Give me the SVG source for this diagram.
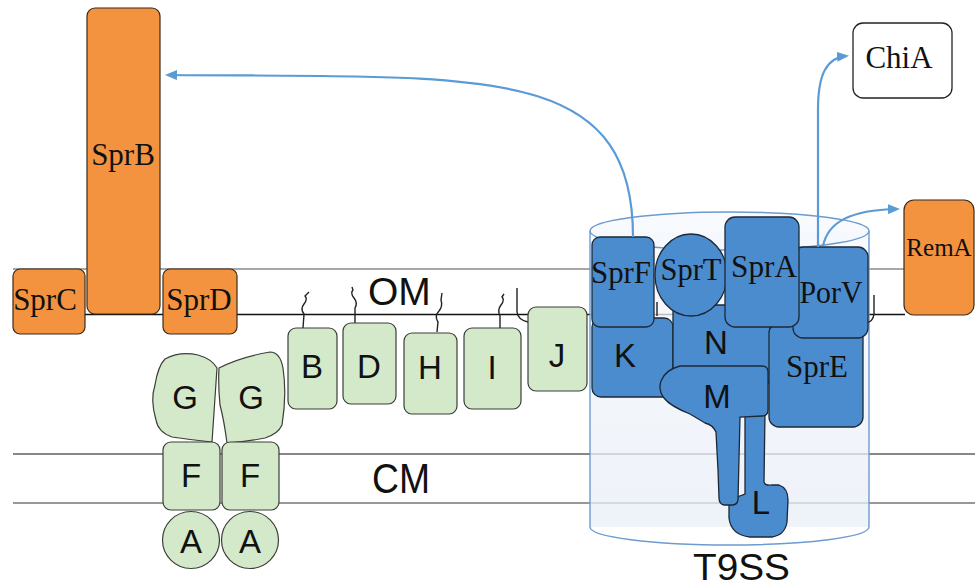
<svg xmlns="http://www.w3.org/2000/svg" width="975" height="588" viewBox="0 0 975 588">
<defs>
<style>
.or{fill:#F4933F;stroke:#3a2a1a;stroke-width:1.2}
.bl{fill:#4B8CCF;stroke:#1c2836;stroke-width:1.3}
.gr{fill:#D4E9CA;stroke:#3a3f38;stroke-width:1.2}
.wh{fill:#ffffff;stroke:#222;stroke-width:1.3}
.ser{font-family:"Liberation Serif","Times New Roman",serif;fill:#111;font-size:31px}
.san{font-family:"Liberation Sans",Arial,sans-serif;fill:#111;font-size:33px;text-anchor:middle}
.mid{text-anchor:middle}
.arr{fill:none;stroke:#5B9BD5;stroke-width:2.2}
.sq{fill:none;stroke:#222;stroke-width:1.4}
</style>
<marker id="ah" viewBox="0 0 12 10" refX="9" refY="5" markerWidth="12" markerHeight="10" markerUnits="userSpaceOnUse" orient="auto">
<path d="M0,0 L12,5 L0,10 Z" fill="#5B9BD5"/>
</marker>
<linearGradient id="cyl" x1="0" y1="0" x2="0" y2="1">
<stop offset="0" stop-color="#f6f8fc"/>
<stop offset="1" stop-color="#e8eef7"/>
</linearGradient>
</defs>
<g id="membranes">
<line x1="13" y1="269" x2="905" y2="269" stroke="#8a8a8a" stroke-width="1.4"/>
<line x1="13" y1="314.5" x2="905" y2="314.5" stroke="#111" stroke-width="1.6"/>
<line x1="13" y1="454" x2="975" y2="454" stroke="#111" stroke-width="1.2"/>
<line x1="13" y1="503" x2="975" y2="503" stroke="#333" stroke-width="1.2"/>
<text x="368" y="305" font-family="Liberation Sans, Arial, sans-serif" font-size="39" fill="#111">OM</text>
<text x="372" y="493" font-family="Liberation Sans, Arial, sans-serif" font-size="43" fill="#111" textLength="58" lengthAdjust="spacingAndGlyphs">CM</text>
</g>
<g id="T9SS">
<rect x="590" y="231" width="279" height="296" fill="url(#cyl)" fill-opacity="0.75" stroke="none"/>
<path d="M590,231 L590,527 A139.5,18 0 0 0 869,527 L869,231" fill="none" stroke="#6d9bd0" stroke-width="1.4"/>
<ellipse cx="729.5" cy="231" rx="139.5" ry="19" fill="#f3f6fb" fill-opacity="0.6" stroke="#6d9bd0" stroke-width="1.4"/>
<text x="693" y="580" font-family="Liberation Sans, Arial, sans-serif" font-size="36" fill="#111" textLength="97" lengthAdjust="spacingAndGlyphs">T9SS</text>
</g>
<g id="lipids">
<path class="sq" d="M303,328 L304,314 Q300,309 304,304 Q308,299 305,296 L309,292"/>
<path class="sq" d="M355,323 L355,308 Q358,303 354,298 Q350,293 353,290 L352,287"/>
<path class="sq" d="M437,332 L438,322 Q434,316 439,311 Q443,306 441,300 L442,293"/>
<path class="sq" d="M500,328 L500,316 Q497,310 501,305 Q505,300 502,297 L504,294"/>
<path class="sq" d="M517,288 L517,312 Q518,320 528,322"/>
<path class="sq" d="M657,302 L657,316"/>
<path class="sq" d="M874,295 L874,314 Q873,322 866,323"/>
</g>
<g id="SprC"><rect class="or" x="13" y="269" width="72" height="65" rx="7"/><text class="ser mid" x="45" y="310">SprC</text></g>
<g id="SprB"><rect class="or" x="87" y="8" width="73" height="306" rx="8"/><text class="ser mid" x="123" y="165">SprB</text></g>
<g id="SprD"><rect class="or" x="163" y="269" width="74" height="65" rx="7"/><text class="ser mid" x="199" y="310">SprD</text></g>
<g id="RemA"><rect class="or" x="904" y="200" width="70" height="115" rx="10"/><text class="ser mid" x="939" y="256" style="font-size:25px">RemA</text></g>
<g id="ChiA"><rect class="wh" x="853" y="23" width="99" height="75" rx="10"/><text class="ser mid" x="899" y="68">ChiA</text></g>
<g id="GldG1"><path class="gr" d="M165,359 Q180,351 198,355 Q212,359 217,368 Q215,400 212,442 Q192,440 172,437 Q158,432 156,420 Q150,400 155,385 Q158,366 165,359 Z"/><text class="san" x="185" y="409">G</text></g>
<g id="GldG2"><path class="gr" d="M219,368 Q240,357 270,352 Q280,352 283,368 Q287,395 282,425 Q278,434 265,438 Q245,442 227,443 Q224,420 220,405 Q218,385 219,368 Z"/><text class="san" x="251" y="409">G</text></g>
<g id="GldF1"><rect class="gr" x="163" y="442" width="57" height="68" rx="8"/><text class="san" x="191" y="487">F</text></g>
<g id="GldF2"><rect class="gr" x="222" y="442" width="57" height="68" rx="8"/><text class="san" x="250" y="487">F</text></g>
<g id="GldA1"><circle class="gr" cx="191" cy="540" r="28.5"/><text class="san" x="191" y="553">A</text></g>
<g id="GldA2"><circle class="gr" cx="250" cy="540" r="28.5"/><text class="san" x="250" y="553">A</text></g>
<g id="GldB"><rect class="gr" x="288" y="328" width="49" height="81" rx="8"/><text class="san" x="312" y="378">B</text></g>
<g id="GldD"><rect class="gr" x="343" y="323" width="53" height="81" rx="8"/><text class="san" x="369" y="378">D</text></g>
<g id="GldH"><rect class="gr" x="404" y="333" width="53" height="81" rx="8"/><text class="san" x="430" y="379">H</text></g>
<g id="GldI"><rect class="gr" x="464" y="328" width="57" height="81" rx="8"/><text class="san" x="492" y="379">I</text></g>
<g id="GldJ"><rect class="gr" x="528" y="307" width="59" height="84" rx="8"/><text class="san" x="557" y="367">J</text></g>
<g id="GldK"><rect class="bl" x="592" y="318" width="81" height="79" rx="9"/><text class="san" x="625" y="367">K</text></g>
<g id="GldN"><rect class="bl" x="673" y="305" width="97" height="80" rx="6"/><text class="san" x="716" y="354">N</text></g>
<g id="SprE"><rect class="bl" x="769" y="323" width="94" height="104" rx="10"/><text class="ser mid" x="817" y="377">SprE</text></g>
<g id="GldL"><path class="bl" d="M745,412 L765,412 L764,482 Q765,486 772,485 L779,485 Q788,488 788,500 L787,522 Q785,535 772,537 L750,537 Q731,535 729,518 L729,500 L745,494 Z"/><text class="san" x="761" y="514">L</text></g>
<g id="GldM"><path class="bl" d="M680,366 L762,366 Q768,366 768,372 L768,410 Q768,416 762,416 L740,417 L738,500 Q737,505 732,505 L724,505 Q719,504 719,498 L718,470 L716,432 Q713,425 705,423 L690,414 Q670,406 664,398 Q658,390 661,381 Q665,370 680,366 Z"/><text class="san" x="717" y="408">M</text></g>
<g id="SprF"><rect class="bl" x="592" y="237" width="62" height="90" rx="8"/><text class="ser mid" x="621" y="283" style="font-size:32px" textLength="60" lengthAdjust="spacingAndGlyphs">SprF</text></g>
<g id="SprT"><ellipse class="bl" cx="691" cy="275" rx="36" ry="41"/><text class="ser mid" x="691" y="280" style="font-size:32px" textLength="61" lengthAdjust="spacingAndGlyphs">SprT</text></g>
<g id="PorV"><rect class="bl" x="793" y="247" width="75" height="91" rx="10"/><text class="ser mid" x="831" y="303" style="font-size:32px" textLength="63" lengthAdjust="spacingAndGlyphs">PorV</text></g>
<g id="SprA"><rect class="bl" x="725" y="217" width="74" height="110" rx="10"/><text class="ser mid" x="764" y="277" style="font-size:32px" textLength="66" lengthAdjust="spacingAndGlyphs">SprA</text></g>
<g id="connectors">
<path class="arr" marker-end="url(#ah)" d="M633,237 C633,60 480,78 168,75"/>
<path class="arr" marker-end="url(#ah)" d="M818,247 L818,110 C818,75 826,58 846,56"/>
<path class="arr" marker-end="url(#ah)" d="M823,246 C828,222 850,210 897,209"/>
</g>
</svg>
